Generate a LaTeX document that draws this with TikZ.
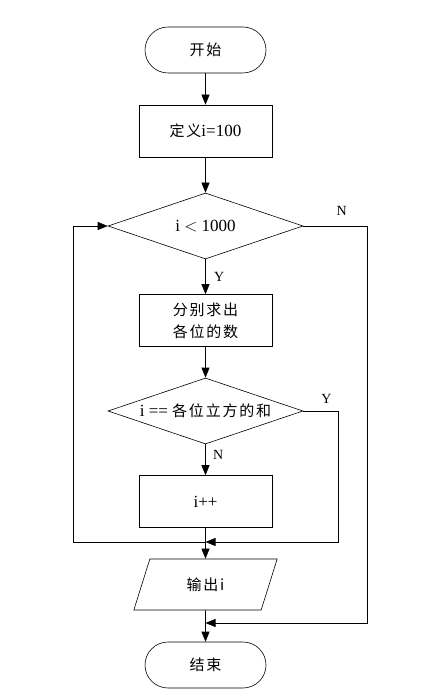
\documentclass[tikz,border=0pt]{standalone}
\usepackage{fontspec}
\setmainfont{Liberation Serif}
\newfontfamily\cjk[LetterSpace=12]{Noto Sans CJK SC}
\usetikzlibrary{arrows.meta,shapes.geometric}
\newcommand{\zh}[1]{{\cjk\fontsize{15}{18}\selectfont #1}}

\begin{document}
\begin{tikzpicture}[x=1pt,y=1pt,>={Triangle[length=10pt,width=8pt]},line width=0.6pt,
  font=\fontsize{17}{20}\selectfont,
  term/.style={draw,rounded corners=23pt,minimum width=121pt,minimum height=46pt,inner sep=0pt},
  proc/.style={draw,minimum width=133pt,minimum height=52pt,inner sep=0pt,align=center},
  cond/.style={draw,diamond,aspect=2.95,minimum width=195pt,minimum height=66pt,inner sep=0pt},
  io/.style={draw,trapezium,trapezium left angle=68.6,trapezium right angle=111.4,
    trapezium stretches=true,minimum width=144pt,minimum height=51pt,inner sep=0pt},
  lab/.style={font=\fontsize{14}{16}\selectfont}]
\useasboundingbox (0,0) rectangle (421,-700);
\node[term] (start) at (205.5,-50) {\zh{开始}};
\node[proc] (init)  at (205.5,-131) {\zh{定义}i=100};
\node[cond] (loop)  at (205.5,-226) {i $<$ 1000};
\node[proc] (split) at (205.5,-320.5) {\zh{分别求出}\\[2pt]\zh{各位的数}};
\node[cond] (check) at (205.5,-411) {i == \zh{各位立方的和}};
\node[proc] (inc)   at (205.5,-501.5) {i++};
\node[io]   (out)   at (205.5,-584.5) {\zh{输出i}};
\node[term] (stop)  at (205.5,-665) {\zh{结束}};
\coordinate (j1) at (205.5,-542);
\coordinate (j2) at (205.5,-623);
\draw[->] (start) -- (init);
\draw[->] (init) -- (loop);
\draw[->] (loop) -- node[lab,right=5pt]{Y} (split);
\draw[->] (split) -- (check);
\draw[->] (check) -- node[lab,right=4pt,pos=0.35]{N} (inc);
\draw[->] (inc) -- (j1) -- ++(-132.5,0) |- (loop.west);
\draw[->] (check.east) -- node[lab,above=4pt,pos=0.66]{Y} ++(35,0) |- (j1);
\draw[->] (j1) -- (out);
\draw[->] (loop.east) -- node[lab,above=7pt,pos=0.6]{N} ++(64,0) |- (j2);
\draw[->] (out) -- (stop);
\end{tikzpicture}
\end{document}
